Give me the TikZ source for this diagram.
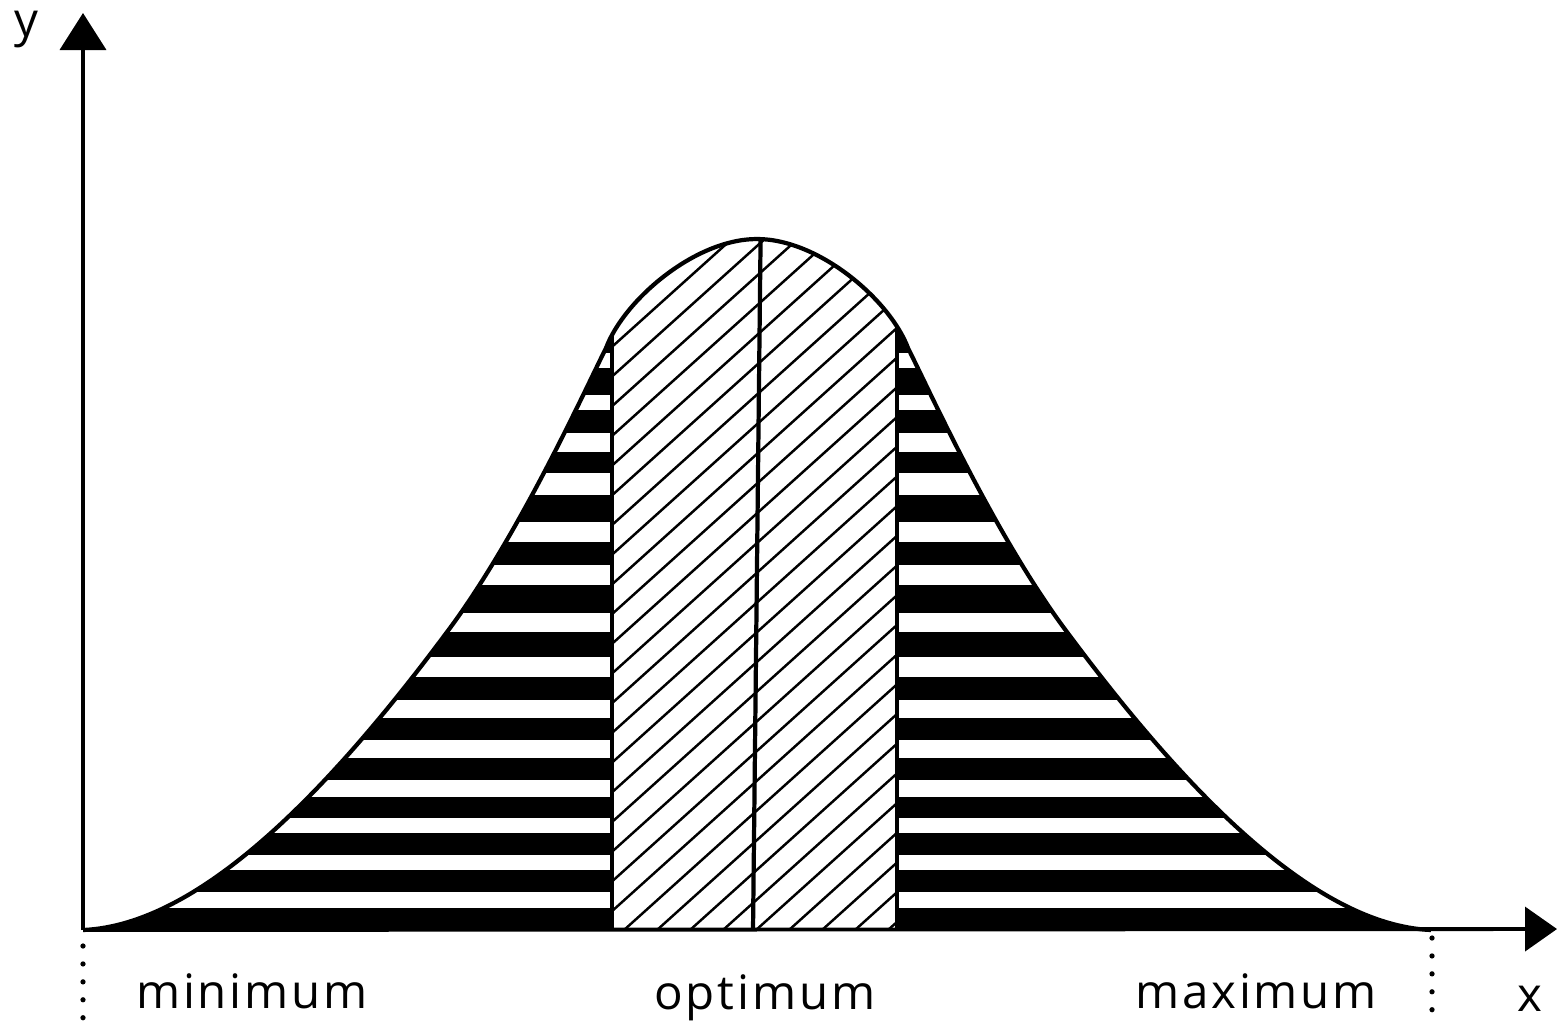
\documentclass[tikz,border=0pt]{standalone}
\usepackage{fontspec}
\setmainfont{Open Sans}[LetterSpace=6]
\usepackage{tikz}
\usetikzlibrary{arrows.meta}

% outline of the bell (image pixels, y downwards)
\newcommand{\bellcurve}{(83,930)
    .. controls (200,925) and (330,790) .. (450,628)
    .. controls (520,533) and (585,390) .. (606,348)
    .. controls (624,300) and (695,239) .. (757,239)
    .. controls (819,239) and (890,300) .. (908,348)
    .. controls (929,390) and (994,533) .. (1064,628)
    .. controls (1184,790) and (1314,925) .. (1431,930)}

\begin{document}
\begin{tikzpicture}[
    x=0.1mm, y=-0.1mm,
    axis/.style={
        line width=1.1pt
    },
    bell/.style={
        line width=1.2pt,
        line join=round
    },
    border/.style={
        line width=1.4pt
    },
    hatch/.style={
        line width=0.7pt
    },
    marker/.style={
        line width=1.5pt,
        line cap=round,
        dash pattern=on 0pt off 5.1pt
    },
    label/.style={
        font=\fontsize{13.5}{16}\selectfont,
        anchor=base,
        inner sep=0pt
    }
]
\useasboundingbox (0,0) rectangle (1558,1026);

% Axis end points
\coordinate (origin) at (83,930);
\coordinate (ytip)   at (83,13);
\coordinate (xtip)   at (1557,929);

% Everything inside the bell
\begin{scope}
    \clip \bellcurve -- cycle;
    % striped flanks
    \fill[black] (60,950) rectangle (612,200);
    \fill[black] (897,950) rectangle (1460,200);
    \foreach \ytop/\ybot in {353/368, 395/410, 433/452, 473/495, 522/542,
        565/585, 613/632, 657/677, 700/718, 740/758, 780/797, 818/833,
        855/870, 892/908}
    {
        \fill[white] (60,\ytop) rectangle (612,\ybot);
        \fill[white] (897,\ytop) rectangle (1460,\ybot);
    }
    % hatched middle part
    \begin{scope}
        \clip (612,200) rectangle (897,930);
        \foreach \k in {0,...,30}
            \draw[hatch] ({-69+33*\k},930) -- ++(1000,-900);
    \end{scope}
    % dividing lines
    \coordinate (lefttop)  at (612,200);
    \coordinate (leftbot)  at (612,930);
    \coordinate (righttop) at (897,200);
    \coordinate (rightbot) at (897,930);
    \coordinate (midtop)   at (761,200);
    \coordinate (midbot)   at (753,930);
    \draw[border] (leftbot) -- (lefttop);
    \draw[border] (rightbot) -- (righttop);
    \draw[bell] (midbot) -- (midtop);
\end{scope}

% Bell outline
\draw[bell] \bellcurve;

% Axes
\draw[axis, -{Triangle[length=3.7mm, width=4.6mm]}] (origin) -- (ytip);
\draw[axis, -{Triangle[length=3.2mm, width=4.4mm]}] (origin) -- (xtip);

% Dotted limits
\coordinate (minmark) at (83,946);
\coordinate (minend)  at (83,1026);
\coordinate (maxmark) at (1432,938);
\coordinate (maxend)  at (1432,1026);
\draw[marker] (minmark) -- (minend);
\draw[marker] (maxmark) -- (maxend);

% Labels
\node[label] (ylabel)  at (26,36)     {y};
\node[label] (xlabel)  at (1530,1011) {x};
\node[label] (minlab)  at (252,1008)  {minimum};
\node[label] (optlab)  at (765,1009)  {optimum};
\node[label] (maxlab)  at (1256,1008) {maximum};

\end{tikzpicture}
\end{document}
